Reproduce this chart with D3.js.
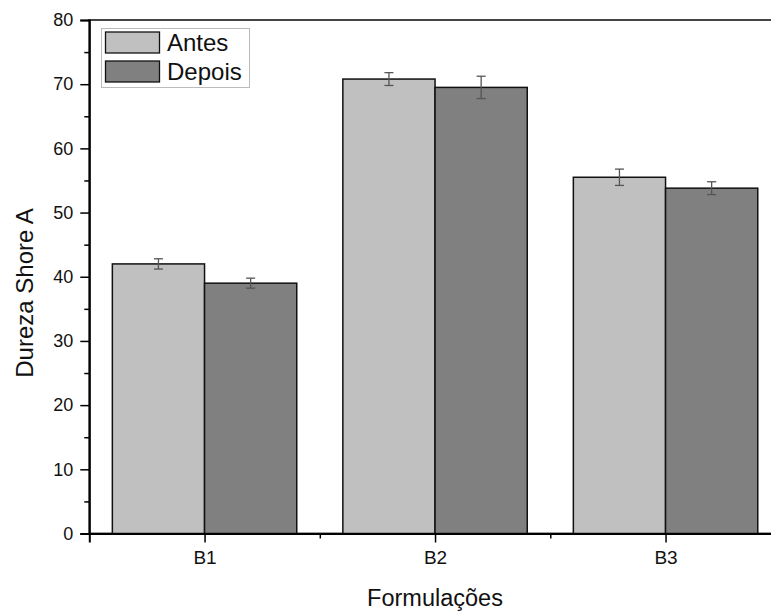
<!DOCTYPE html>
<html><head><meta charset="utf-8">
<script src="https://cdn.jsdelivr.net/npm/d3@7"></script>
<style>body{margin:0;background:#fff;} svg{display:block;font-family:Arial,"Liberation Sans",sans-serif;}</style>
</head><body>
<script>
const categories = ["B1", "B2", "B3"];
const seriesNames = ["Antes", "Depois"];
const antes = [42.0, 70.8, 55.5];
const antesErr = [0.8, 1.0, 1.27];
const depois = [39.0, 69.5, 53.8];
const depoisErr = [0.78, 1.74, 1.0];
const yTicks = [0, 10, 20, 30, 40, 50, 60, 70, 80];
const yMinor = [5, 15, 25, 35, 45, 55, 65, 75];
const xMinor = [1.5, 2.5];
const colors = ["#c0c0c0", "#808080"];

const W = 771, H = 612;
const svg = d3.select("body").append("svg").attr("width", W).attr("height", H);

const x = d3.scaleLinear().domain([0.5, 3.5]).range([89.3, 780.8]);
const y = d3.scaleLinear().domain([0, 80]).range([533.5, 20]);
const bw = 0.4;

const series = [
  {name: seriesNames[0], vals: antes, errs: antesErr, off: -bw, color: colors[0]},
  {name: seriesNames[1], vals: depois, errs: depoisErr, off: 0, color: colors[1]}
];

// frame (top / right)
svg.append("rect").attr("x", x(0.5)).attr("y", y(80)).attr("width", x(3.5) - x(0.5)).attr("height", y(0) - y(80))
  .attr("fill", "none").attr("stroke", "#444").attr("stroke-width", 2);

// bars
series.forEach(s => {
  svg.append("g").selectAll("rect").data(s.vals).join("rect")
    .attr("x", (d, i) => x(i + 1 + s.off))
    .attr("width", (d, i) => x(i + 1 + s.off + bw) - x(i + 1 + s.off))
    .attr("y", d => y(d))
    .attr("height", d => y(0) - y(d))
    .attr("fill", s.color).attr("stroke", "#111").attr("stroke-width", 1.5);
});

// error bars
series.forEach(s => {
  const g = svg.append("g").attr("stroke", "#555").attr("stroke-width", 1.3);
  s.vals.forEach((v, i) => {
    const cx = x(i + 1 + s.off + bw / 2);
    const e = s.errs[i];
    g.append("line").attr("x1", cx).attr("x2", cx).attr("y1", y(v + e)).attr("y2", y(v - e));
    g.append("line").attr("x1", cx - 4.5).attr("x2", cx + 4.5).attr("y1", y(v + e)).attr("y2", y(v + e));
    g.append("line").attr("x1", cx - 4.5).attr("x2", cx + 4.5).attr("y1", y(v - e)).attr("y2", y(v - e));
  });
});

// y axis
const yAxis = d3.axisLeft(y).tickValues(yTicks).tickSize(9).tickPadding(7).tickFormat(d3.format("d"));
const gy = svg.append("g").attr("transform", `translate(${x(0.5)},0)`).call(yAxis);
gy.select(".domain").attr("stroke", "#000").attr("stroke-width", 2);
gy.selectAll(".tick line").attr("stroke", "#000").attr("stroke-width", 1.5);
gy.selectAll(".tick text").attr("font-size", 18).attr("fill", "#111").attr("font-family", "Arial, 'Liberation Sans', sans-serif");
const gyMinor = d3.axisLeft(y).tickValues(yMinor).tickSize(5).tickFormat("");
const gym = svg.append("g").attr("transform", `translate(${x(0.5)},0)`).call(gyMinor);
gym.select(".domain").remove();
gym.selectAll(".tick line").attr("stroke", "#000").attr("stroke-width", 1.5);

// x axis
const xAxis = d3.axisBottom(x).tickValues([1, 2, 3]).tickSize(9).tickPadding(8).tickFormat((d) => categories[d - 1]);
const gx = svg.append("g").attr("transform", `translate(0,${y(0)})`).call(xAxis);
gx.select(".domain").attr("stroke", "#000").attr("stroke-width", 2);
gx.selectAll(".tick line").attr("stroke", "#000").attr("stroke-width", 1.5);
gx.selectAll(".tick text").attr("font-size", 19).attr("fill", "#111").attr("font-family", "Arial, 'Liberation Sans', sans-serif");
const gxm = svg.append("g").attr("transform", `translate(0,${y(0)})`).call(d3.axisBottom(x).tickValues(xMinor).tickSize(5).tickFormat(""));
gxm.select(".domain").remove();
gxm.selectAll(".tick line").attr("stroke", "#000").attr("stroke-width", 1.5);

// axis titles
svg.append("text").attr("transform", "translate(33,293) rotate(-90)").attr("text-anchor", "middle")
  .attr("font-size", 24).attr("fill", "#111").text("Dureza Shore A");
svg.append("text").attr("x", 435).attr("y", 606).attr("text-anchor", "middle")
  .attr("font-size", 23.5).attr("fill", "#111").text("Formulações");

// legend
const lg = svg.append("g");
lg.append("rect").attr("x", 101.5).attr("y", 28.5).attr("width", 148).attr("height", 59)
  .attr("fill", "#fff").attr("stroke", "#bbb").attr("stroke-width", 1);
series.forEach((s, i) => {
  const yy = 32 + i * 29;
  lg.append("rect").attr("x", 105.5).attr("y", yy).attr("width", 54).attr("height", 21)
    .attr("fill", s.color).attr("stroke", "#111").attr("stroke-width", 1.3);
  lg.append("text").attr("x", 167).attr("y", yy + 18.5).attr("font-size", 24).attr("fill", "#111").text(s.name);
});
</script>
</body></html>
